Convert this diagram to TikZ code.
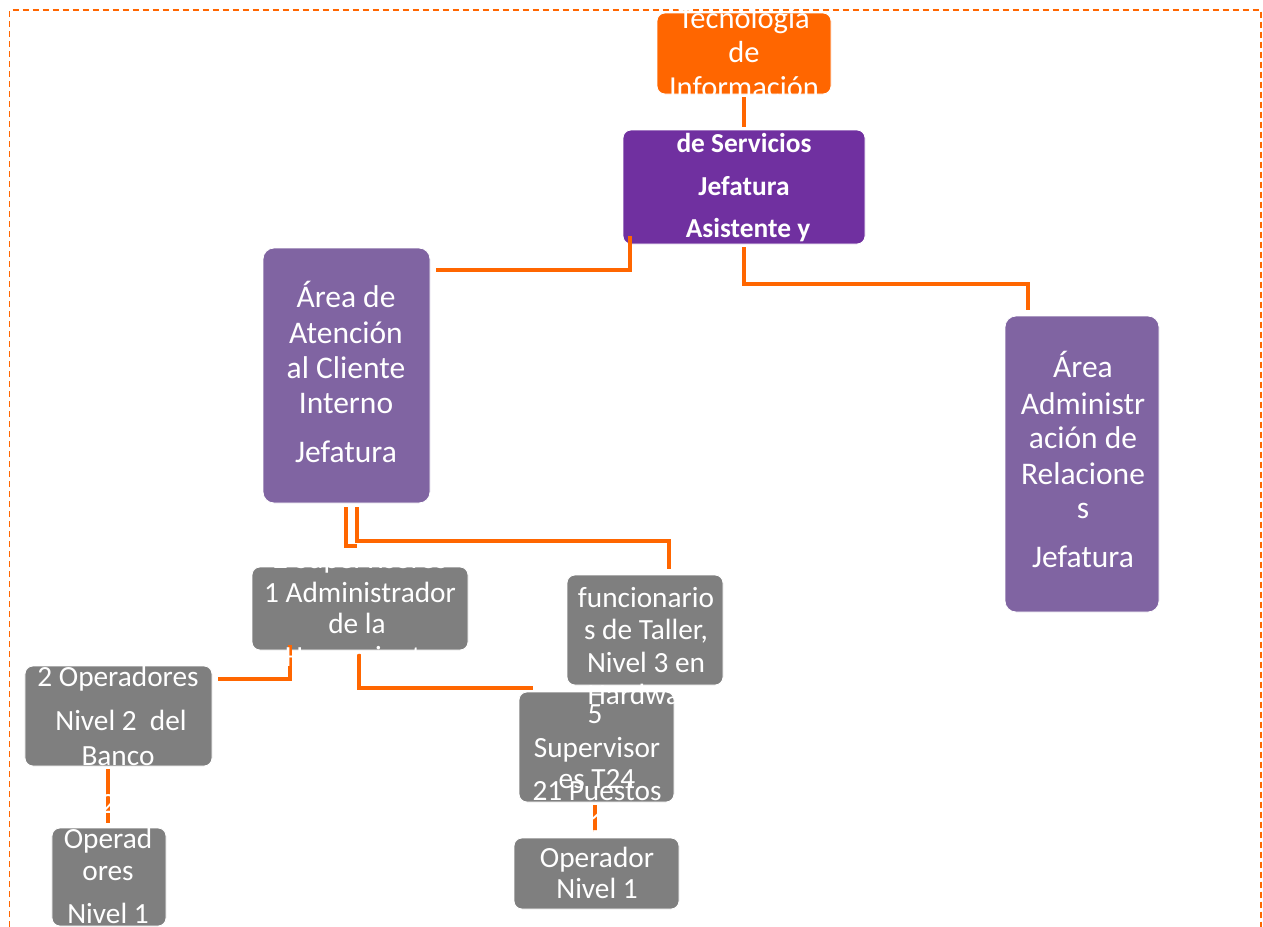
\documentclass[tikz,border=0pt]{standalone}
\usepackage{fontspec}
\setmainfont{Carlito}
\definecolor{org}{HTML}{FF6600}
\definecolor{hdr}{HTML}{7030A0}
\definecolor{area}{HTML}{8064A2}
\definecolor{gry}{HTML}{7F7F7F}
\tikzset{
  box/.style={rectangle, rounded corners=8bp, draw=white, line width=0.8bp, inner sep=0pt},
  conn/.style={draw=org, line width=4.8bp},
  txt/.style={text=white, inner sep=0pt, anchor=base},
  fA/.style={font=\fontsize{31.5bp}{36bp}\selectfont},
  fT/.style={font=\fontsize{30.5bp}{35bp}\selectfont},
  fG/.style={font=\fontsize{29.3bp}{33bp}\selectfont},
  fH/.style={font=\fontsize{27.4bp}{31bp}\selectfont\bfseries},
}
\begin{document}
\begin{tikzpicture}[x=1bp,y=-1bp]
\useasboundingbox (0,0) rectangle (1263,927);
% dashed frame
\draw[org, line width=1.8bp, dash pattern=on 6bp off 4bp] (9.5,927) -- (9.5,10) -- (1261,10) -- (1261,927);
% boxes
\node[box, fill=org, minimum width=174bp, minimum height=81bp] (tec) at (744,53.5) {};
\node[box, fill=hdr, minimum width=242bp, minimum height=114bp] (hdr) at (744,187) {};
\node[box, fill=area, minimum width=167bp, minimum height=255bp, rounded corners=11bp] (aten) at (346.5,375.5) {};
\node[box, fill=area, minimum width=154bp, minimum height=296bp, rounded corners=11bp] (rel) at (1082,464) {};
\node[box, fill=gry, minimum width=216bp, minimum height=83bp] (adm) at (360,608.5) {};
\node[box, fill=gry, minimum width=156bp, minimum height=110bp] (fun) at (645,630) {};
\node[box, fill=gry, minimum width=187bp, minimum height=100bp] (opa) at (118.5,716) {};
\node[box, fill=gry, minimum width=155bp, minimum height=110bp] (sup) at (596.5,747) {};
\node[box, fill=gry, minimum width=114bp, minimum height=98bp] (opb) at (109,877) {};
\node[box, fill=gry, minimum width=165bp, minimum height=71bp] (opr) at (596.5,873.5) {};
% connector end points
\coordinate (a1) at (744,97);   \coordinate (a2) at (744,127);
\coordinate (b1) at (630,236);  \coordinate (b2) at (630,270);  \coordinate (b3) at (436,270);
\coordinate (d1) at (744,247);  \coordinate (d2) at (744,284);  \coordinate (d3) at (1028,284); \coordinate (d4) at (1028,310);
\coordinate (e1) at (346,507);  \coordinate (e2) at (346,546);  \coordinate (e3) at (357,546);
\coordinate (f1) at (357,507);  \coordinate (f2) at (357,541);  \coordinate (f3) at (669,541); \coordinate (f4) at (669,569);
\coordinate (g1) at (290,645);  \coordinate (g2) at (290,679);  \coordinate (g3) at (218,679);
\coordinate (h1) at (359,653);  \coordinate (h2) at (359,688);  \coordinate (h3) at (533,688);
\coordinate (k1) at (108,769);  \coordinate (k2) at (108,823);
\coordinate (m1) at (595,805);  \coordinate (m2) at (595,832);
% connectors
\draw[conn] (a1) -- (a2);
\draw[conn] (b1) -- (b2) -- (b3);
\draw[conn] (d1) -- (d2) -- (d3) -- (d4);
\draw[conn] (e1) -- (e2) -- (e3);
\draw[conn] (f1) -- (f2) -- (f3) -- (f4);
\draw[conn] (g1) -- (g2) -- (g3);
\draw[conn] (h1) -- (h2) -- (h3);
\draw[conn] (k1) -- (k2);
\draw[conn] (m1) -- (m2);
% texts
\node[txt,fT] (t1) at (744,28) {Tecnología};
\node[txt,fT] (t2) at (744,62) {de};
\node[txt,fT] (t3) at (744,97) {Información};
\node[txt,fH] (h4) at (744,152) {de Servicios};
\node[txt,fH] (h5) at (744,195) {Jefatura};
\node[txt,fH] (h6) at (748,237) {Asistente y};
\node[txt,fA] (a3) at (346,307) {Área de};
\node[txt,fA] (a4) at (346,343) {Atención};
\node[txt,fA] (a5) at (346,378) {al Cliente};
\node[txt,fA] (a6) at (346,413) {Interno};
\node[txt,fA] (a7) at (346,462) {Jefatura};
\node[txt,fA] (r1) at (1083,377) {Área};
\node[txt,fA] (r2) at (1083,414) {Administr};
\node[txt,fA] (r3) at (1083,448) {ación de};
\node[txt,fA] (r4) at (1083,484) {Relacione};
\node[txt,fA] (r5) at (1083,518) {s};
\node[txt,fA] (r6) at (1083,567) {Jefatura};
\node[txt,fG] (s1) at (360,568) {2 Supervisores};
\node[txt,fG] (s2) at (360,602) {1 Administrador};
\node[txt,fG] (s3) at (357,633) {de la};
\node[txt,fG] (s4) at (360,666) {Herramienta};
\node[txt,fG] (u1) at (646,607) {funcionario};
\node[txt,fG] (u2) at (646,639) {s de Taller,};
\node[txt,fG] (u3) at (646,672) {Nivel 3 en};
\node[txt,fG] (u4) at (646,704) {Hardware};
\node[txt,fG] (o1) at (118,686) {2 Operadores};
\node[txt,fG] (o2) at (121,730) {Nivel 2 \ del};
\node[txt,fG] (o3) at (118,765) {Banco};
\node[txt,fG] (p1) at (108,813) {2};
\node[txt,fG] (p2) at (108,848) {Operad};
\node[txt,fG] (p3) at (108,880) {ores};
\node[txt,fG] (p4) at (108,923) {Nivel 1};
\node[txt,fG] (v1) at (595,723) {5};
\node[txt,fG] (v2) at (597,757) {Supervisor};
\node[txt,fG] (v3) at (597,788) {es T24};
\node[txt,fG] (v4) at (597,800) {21 Puestos};
\node[txt,fG] (v5) at (597,832) {1};
\node[txt,fG] (w1) at (597,867) {Operador};
\node[txt,fG] (w2) at (597,898) {Nivel 1};
\end{tikzpicture}
\end{document}
